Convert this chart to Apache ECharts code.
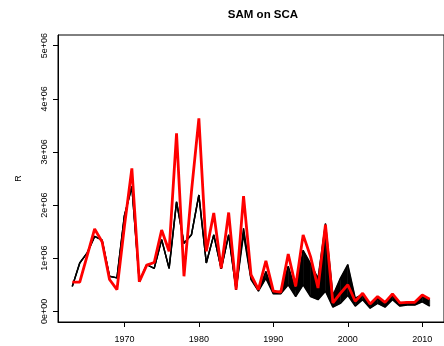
<!DOCTYPE html>
<html>
<head>
<meta charset="utf-8">
<script src="https://cdn.jsdelivr.net/npm/echarts@6/dist/echarts.min.js"></script>
<style>
html, body { margin: 0; padding: 0; background: #fff; }
#chart { width: 444px; height: 346px; }
</style>
</head>
<body>
<div id="chart"></div>
<script>
// recruitment (R) in millions, 1963-2011
var years = [];
for (var y = 1963; y <= 2011; y++) years.push(y);

var redR = [0.55, 0.55, 1.05, 1.55, 1.31, 0.60, 0.41, 1.60, 2.69, 0.56,
	0.87, 0.92, 1.53, 1.13, 3.35, 0.66, 2.25, 3.63, 1.13, 1.85,
	0.81, 1.86, 0.41, 2.17, 0.69, 0.41, 0.95, 0.38, 0.36, 1.08,
	0.47, 1.44, 1.03, 0.44, 1.63, 0.16, 0.34, 0.50, 0.19, 0.34,
	0.14, 0.28, 0.17, 0.33, 0.16, 0.17, 0.17, 0.31, 0.23];

var blackUpper = [0.47, 0.91, 1.10, 1.41, 1.34, 0.66, 0.63, 1.80, 2.35, 0.56,
	0.88, 0.81, 1.35, 0.81, 2.06, 1.28, 1.44, 2.19, 0.91, 1.44,
	0.80, 1.44, 0.41, 1.56, 0.63, 0.41, 0.75, 0.36, 0.38, 0.85,
	0.40, 1.15, 0.90, 0.62, 1.65, 0.30, 0.62, 0.88, 0.25, 0.32,
	0.15, 0.25, 0.15, 0.30, 0.15, 0.17, 0.17, 0.28, 0.22];

var blackLower = [0.47, 0.91, 1.10, 1.41, 1.34, 0.66, 0.63, 1.80, 2.35, 0.56,
	0.88, 0.81, 1.35, 0.81, 2.06, 1.28, 1.44, 2.19, 0.91, 1.44,
	0.80, 1.44, 0.41, 1.45, 0.60, 0.38, 0.62, 0.33, 0.33, 0.50,
	0.28, 0.50, 0.28, 0.22, 0.38, 0.08, 0.15, 0.30, 0.10, 0.22,
	0.06, 0.15, 0.08, 0.22, 0.10, 0.12, 0.12, 0.18, 0.10];

var xTicks = [1970, 1980, 1990, 2000, 2010];
var yTicks = [0, 1, 2, 3, 4, 5];

function pairs(vals) {
	return years.map(function (yr, i) { return [yr, vals[i]]; });
}

// one quad per year step between the lower and upper envelope
function renderBand(params, api) {
	var i = api.value(0);
	if (i >= years.length - 1) return null;
	var pts = [
		api.coord([years[i], blackLower[i]]),
		api.coord([years[i + 1], blackLower[i + 1]]),
		api.coord([years[i + 1], blackUpper[i + 1]]),
		api.coord([years[i], blackUpper[i]])
	];
	return {
		type: 'polygon',
		shape: { points: pts },
		style: { fill: '#000', stroke: '#000', lineWidth: 0.5 }
	};
}

var font = 'Liberation Sans, Arial, sans-serif';

var option = {
	animation: false,
	title: {
		text: 'SAM on SCA',
		left: 258,
		textAlign: 'center',
		top: 4,
		textStyle: { fontFamily: font, fontSize: 11.5, fontWeight: 'bold', color: '#000' }
	},
	grid: {
		left: 58, top: 35, right: -14, bottom: 24,
		show: true, borderColor: '#000', borderWidth: 1
	},
	xAxis: {
		type: 'value',
		min: 1961.08,
		max: 2012.92,
		splitLine: { show: false },
		axisLine: { show: true, onZero: false, lineStyle: { color: '#000', width: 1 } },
		axisTick: { show: true, inside: false, length: 5, customValues: xTicks, lineStyle: { color: '#000' } },
		axisLabel: {
			customValues: xTicks, color: '#000', fontFamily: font, fontSize: 9, margin: 13,
			formatter: function (v) { return String(v); }
		}
	},
	yAxis: {
		type: 'value',
		min: -0.2,
		max: 5.2,
		name: 'R',
		nameLocation: 'middle',
		nameRotate: 90,
		nameGap: 35,
		nameTextStyle: { color: '#000', fontFamily: font, fontSize: 9 },
		splitLine: { show: false },
		axisLine: { show: true, onZero: false, lineStyle: { color: '#000', width: 1 } },
		axisTick: { show: true, inside: false, length: 5, customValues: yTicks, lineStyle: { color: '#000' } },
		axisLabel: {
			customValues: yTicks, rotate: 90, color: '#000', fontFamily: font, fontSize: 9, margin: 9,
			formatter: function (v) { return v === 0 ? '0e+00' : v + 'e+06'; }
		}
	},
	series: [
		{
			type: 'custom', renderItem: renderBand, silent: true, z: 1,
			data: years.map(function (yr, i) { return [i]; }),
			encode: { x: -1, y: -1 }
		},
		{
			type: 'line', data: pairs(blackLower), symbol: 'none',
			lineStyle: { color: '#000', width: 1.5 }, z: 3
		},
		{
			type: 'line', data: pairs(blackUpper), symbol: 'none',
			lineStyle: { color: '#000', width: 1.5 }, z: 3
		},
		{
			type: 'line', data: pairs(redR), symbol: 'none',
			lineStyle: { color: '#ff0000', width: 2.8 }, z: 4
		}
	]
};

var myChart = echarts.init(document.getElementById('chart'));
myChart.setOption(option);
</script>
</body>
</html>
